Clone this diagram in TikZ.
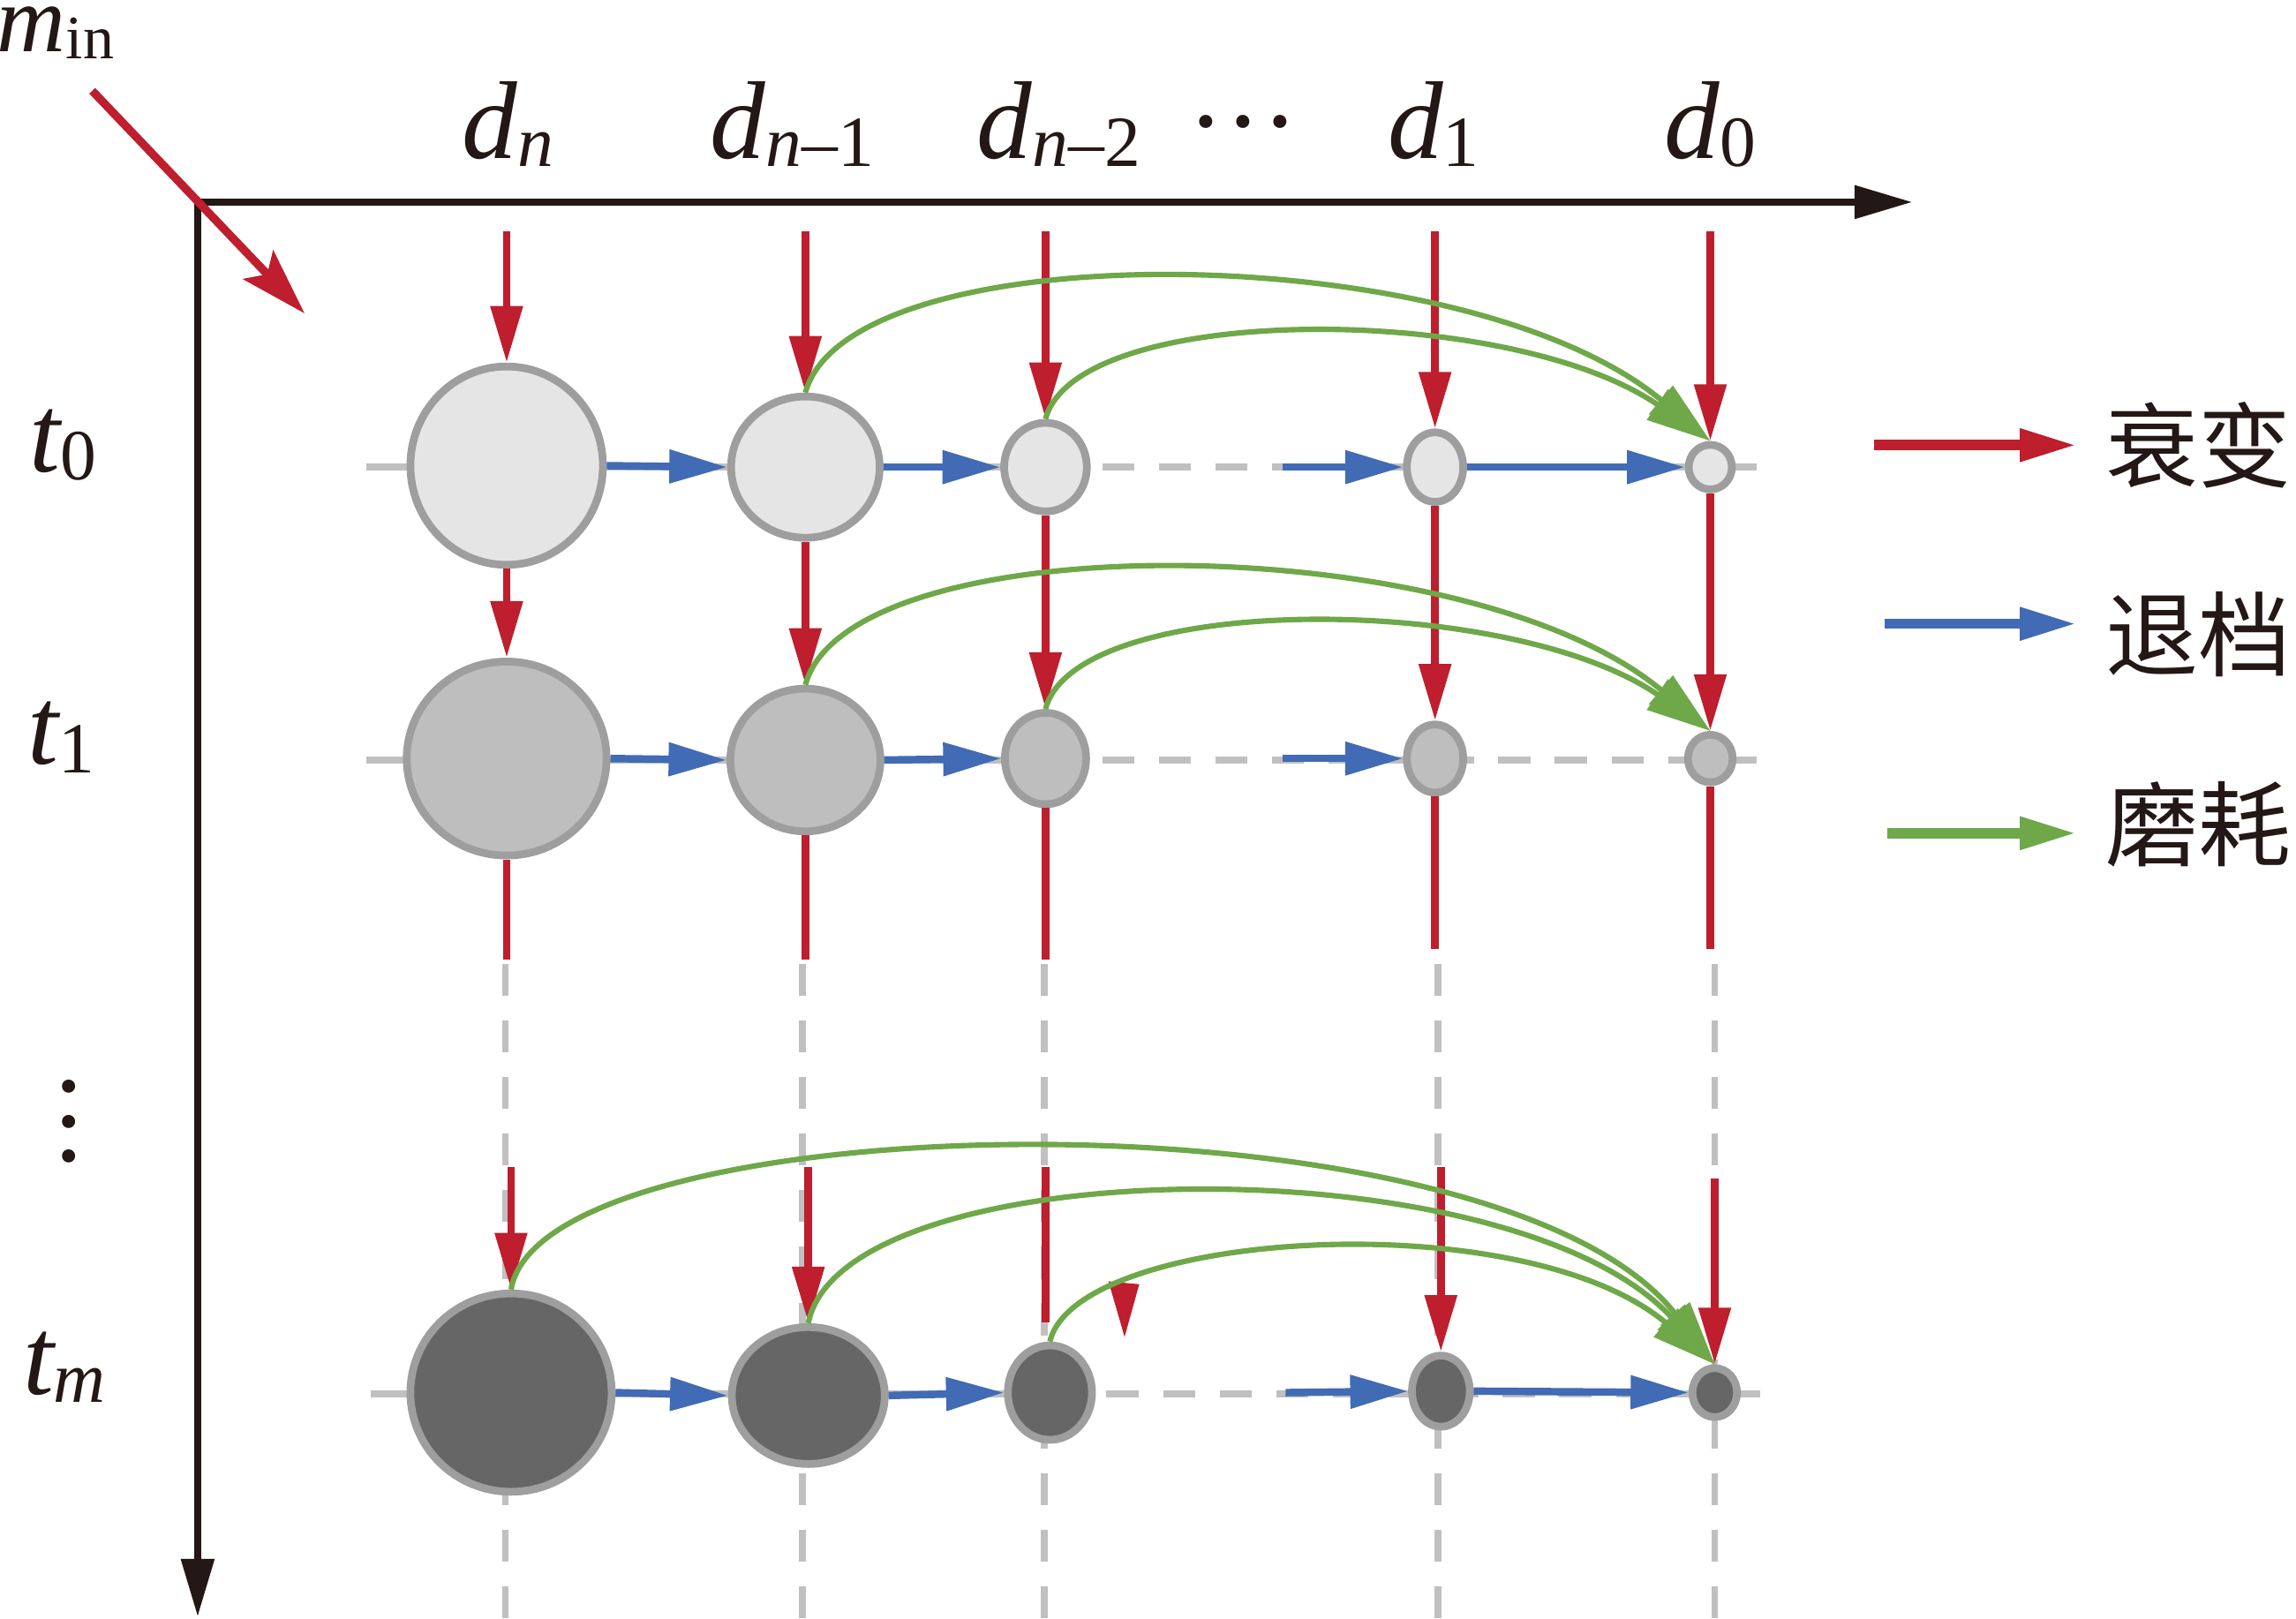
\documentclass[tikz,border=0pt]{standalone}
\usepackage{fontspec}
\setmainfont{Liberation Serif}
\newfontfamily\cjk{Noto Sans CJK SC}
\usetikzlibrary{arrows.meta,shapes.geometric}
\definecolor{redc}{RGB}{190,30,45}
\definecolor{bluec}{RGB}{65,107,180}
\definecolor{greenc}{RGB}{110,168,72}
\definecolor{ringc}{RGB}{158,158,158}
\definecolor{guidec}{RGB}{192,192,192}
\definecolor{ink}{RGB}{35,24,21}
\definecolor{fillA}{RGB}{229,229,229}
\definecolor{fillB}{RGB}{190,190,190}
\definecolor{fillC}{RGB}{102,102,102}
\pgfdeclarelayer{bg}
\pgfsetlayers{bg,main}
\newcommand\mylab[2]{{\itshape #1}{\fontsize{28}{30}\selectfont\raisebox{-0.12em}{#2}}}
\newcommand\mysmlab[2]{{\itshape #1}{\fontsize{24}{26}\selectfont\raisebox{-0.12em}{#2}}}
\begin{document}
\begin{tikzpicture}[x=0.02cm,y=-0.02cm,
  blob/.style={ellipse, draw=ringc, line width=3pt, inner sep=0pt},
  redarr/.style={draw=redc, line width=3pt, -{Triangle[length=22pt,width=12pt]}},
  redline/.style={draw=redc, line width=3pt},
  bluearr/.style={draw=bluec, line width=2.9pt, -{Triangle[length=22.5pt,width=12.5pt]}},
  greenarr/.style={draw=greenc, line width=2.1pt, -{Triangle[length=25pt,width=14pt]}},
  guideline/.style={draw=guidec, line width=2.6pt},
  guidedash/.style={guideline, dash pattern=on 12.5pt off 9.5pt},
  axisarr/.style={draw=ink, line width=2.7pt, line cap=rect, -{Triangle[length=22.5pt,width=12.5pt]}},
  labtxt/.style={font=\fontsize{43}{48}\selectfont, text=ink, anchor=base, inner sep=0pt},
  legtxt/.style={font=\cjk\fontsize{36}{40}\selectfont, text=ink, inner sep=0pt, anchor=west}]
\useasboundingbox (0,0) rectangle (1568,1105.6);

% ---- nodes (circles) ----
\node[blob, fill=fillA, minimum width=2.63cm, minimum height=2.71cm] (n00) at (346,318) {};
\node[blob, fill=fillA, minimum width=2.03cm, minimum height=1.93cm] (n01) at (550,319) {};
\node[blob, fill=fillA, minimum width=1.13cm, minimum height=1.21cm] (n02) at (714,319) {};
\node[blob, fill=fillA, minimum width=0.77cm, minimum height=0.95cm] (n03) at (980,319) {};
\node[blob, fill=fillA, minimum width=0.59cm, minimum height=0.61cm] (n04) at (1168,319) {};

\node[blob, fill=fillB, minimum width=2.73cm, minimum height=2.65cm] (n10) at (346,518) {};
\node[blob, fill=fillB, minimum width=2.05cm, minimum height=1.95cm] (n11) at (550,519) {};
\node[blob, fill=fillB, minimum width=1.11cm, minimum height=1.25cm] (n12) at (714,518) {};
\node[blob, fill=fillB, minimum width=0.77cm, minimum height=0.93cm] (n13) at (980,518) {};
\node[blob, fill=fillB, minimum width=0.61cm, minimum height=0.65cm] (n14) at (1168,518) {};

\node[blob, fill=fillC, minimum width=2.75cm, minimum height=2.71cm] (nm0) at (349,951) {};
\node[blob, fill=fillC, minimum width=2.09cm, minimum height=1.87cm] (nm1) at (552,953) {};
\node[blob, fill=fillC, minimum width=1.15cm, minimum height=1.29cm] (nm2) at (717,951) {};
\node[blob, fill=fillC, minimum width=0.79cm, minimum height=0.97cm] (nm3) at (984,950) {};
\node[blob, fill=fillC, minimum width=0.61cm, minimum height=0.67cm] (nm4) at (1171,951) {};

% ---- helper coordinates ----
\coordinate (ytop) at (0,158);
\coordinate (ycut) at (0,655);
\coordinate (ycutb) at (0,648);
\coordinate (ylow) at (0,797);
\coordinate (yend2) at (0,903);

% ---- background guides ----
\begin{pgfonlayer}{bg}
  \coordinate (g0a) at (250,319); \coordinate (g0b) at (1202,319);
  \coordinate (g1a) at (250,519); \coordinate (g1b) at (1202,519);
  \coordinate (gma) at (253,952); \coordinate (gmb) at (1202,952);
  \draw[guideline] (g0a) -- (g0a -| n02);
  \draw[guidedash] (g0a -| n02) -- (g0b);
  \draw[guideline] (g1a) -- (g1a -| n12);
  \draw[guidedash] (g1a -| n12) -- (g1b);
  \draw[guideline] (gma) -- (gma -| nm2);
  \draw[guidedash] (gma -| nm2) -- (gmb);
  \foreach \c/\xx in {0/345,1/548,2/713,3/982,4/1171}{
    \coordinate (v\c a) at (\xx,658);
    \coordinate (v\c b) at (\xx,1105);
    \draw[guidedash] (v\c a) -- (v\c b);
  }
\end{pgfonlayer}

% ---- axes ----
\coordinate (O) at (135,138);
\coordinate (xe) at (1306,138);
\coordinate (ye) at (135,1104);
\draw[axisarr] (O) -- (xe);
\draw[axisarr] (O) -- (ye);

% ---- labels ----
\node[labtxt, font=\fontsize{37}{40}\selectfont] (lmin) at (38,35) {\mysmlab{m}{in}};
\node[labtxt] (ldn) at (347,108) {\mylab{d}{\itshape n}};
\node[labtxt] (ldn1) at (541,108) {\mylab{d}{{\itshape n}–1}};
\node[labtxt] (ldn2) at (723,108) {\mylab{d}{{\itshape n}–2}};
\node[labtxt] (ldots) at (849,108) {···};
\node[labtxt] (ld1) at (979,108) {\mylab{d}{1}};
\node[labtxt] (ld0) at (1168,108) {\mylab{d}{0}};
\node[labtxt] (lt0) at (43,322) {\mylab{t}{0}};
\node[labtxt] (lt1) at (42,522) {\mylab{t}{1}};
\node[labtxt] (ltm) at (44,952) {\mylab{t}{\itshape m}};
\node[font=\fontsize{43}{13.6}\selectfont, text=ink, align=center, inner sep=0pt] (lvd) at (47,766) {.\\.\\.};

% ---- m_in arrow ----
\coordinate (ms) at (63,62);
\coordinate (me) at (208,214);
\draw[draw=redc, line width=3.2pt, -{Stealth[length=26pt,width=16pt,inset=5pt]}] (ms) -- (me);

% ---- red (decay) arrows ----
\draw[redarr] (n00.north |- ytop) -- (n00.north);
\draw[redarr] (n00.south) -- (n10.north);
\draw[redline] (n10.south) -- (n10.south |- ycut);
\draw[redarr] (nm0.north |- ylow) -- (nm0.north);

\draw[redarr] (n01.north |- ytop) -- (n01.north);
\draw[redarr] (n01.south) -- (n11.north);
\draw[redline] (n11.south) -- (n11.south |- ycut);
\draw[redarr] (nm1.north |- ylow) -- (nm1.north);

\draw[redarr] (n02.north |- ytop) -- (n02.north);
\draw[redarr] (n02.south) -- (n12.north);
\draw[redline] (n12.south) -- (n12.south |- ycut);
\draw[redline] (n12.south |- ylow) -- (n12.south |- yend2);

\draw[redarr] (n03.north |- ytop) -- (n03.north);
\draw[redarr] (n03.south) -- (n13.north);
\draw[redline] (n13.south) -- (n13.south |- ycutb);
\draw[redarr] (nm3.north |- ylow) -- (nm3.north);

\draw[redarr] (n04.north |- ytop) -- (n04.north);
\draw[redarr] (n04.south) -- (n14.north);
\draw[redline] (n14.south) -- (n14.south |- ycutb);
\coordinate (c4low) at (1171,805);
\draw[redarr] (c4low) -- (nm4.north);

% stray arrow head
\fill[redc] (757,875) -- (778,877) -- (768,913) -- cycle;

% ---- blue (shift) arrows ----
\coordinate (b0) at (876,319);
\coordinate (b1) at (876,518);
\coordinate (bm) at (878,951);
\draw[bluearr] (n00.east) -- (n01.west);
\draw[bluearr] (n01.east) -- (n02.west);
\draw[bluearr] (b0) -- (n03.west);
\draw[bluearr] (n03.east) -- (n04.west);
\draw[bluearr] (n10.east) -- (n11.west);
\draw[bluearr] (n11.east) -- (n12.west);
\draw[bluearr] (b1) -- (n13.west);
\draw[bluearr] (nm0.east) -- (nm1.west);
\draw[bluearr] (nm1.east) -- (nm2.west);
\draw[bluearr] (bm) -- (nm3.west);
\draw[bluearr] (nm3.east) -- (nm4.west);

% ---- green (wear) arcs ----
\draw[greenarr] (n01.north) .. controls +(30,-110) and +(-168,-140) .. (n04.north);
\draw[greenarr] (n02.north) .. controls +(21,-80) and +(-138,-95) .. (n04.north);
\draw[greenarr] (n11.north) .. controls +(30,-110) and +(-168,-140) .. (n14.north);
\draw[greenarr] (n12.north) .. controls +(21,-80) and +(-138,-95) .. (n14.north);
\draw[greenarr] (nm0.north) .. controls +(21,-128) and +(-151,-193) .. (nm4.north);
\draw[greenarr] (nm1.north) .. controls +(23,-118) and +(-141,-153) .. (nm4.north);
\draw[greenarr] (nm2.north) .. controls +(18,-76) and +(-131,-111) .. (nm4.north);

% ---- legend ----
\coordinate (lr1) at (1280,304); \coordinate (lr2) at (1418,304);
\coordinate (lb1) at (1287,426); \coordinate (lb2) at (1418,426);
\coordinate (lg1) at (1289,569); \coordinate (lg2) at (1418,569);
\draw[redarr, line width=4pt] (lr1) -- (lr2);
\draw[bluearr, line width=4pt, -{Triangle[length=22pt,width=12pt]}] (lb1) -- (lb2);
\draw[greenarr, line width=4pt, -{Triangle[length=22pt,width=12pt]}] (lg1) -- (lg2);
\node[legtxt] (tr) at (1438,304) {衰变};
\node[legtxt] (tb) at (1438,433) {退档};
\node[legtxt] (tg) at (1438,563) {磨耗};
\end{tikzpicture}
\end{document}
